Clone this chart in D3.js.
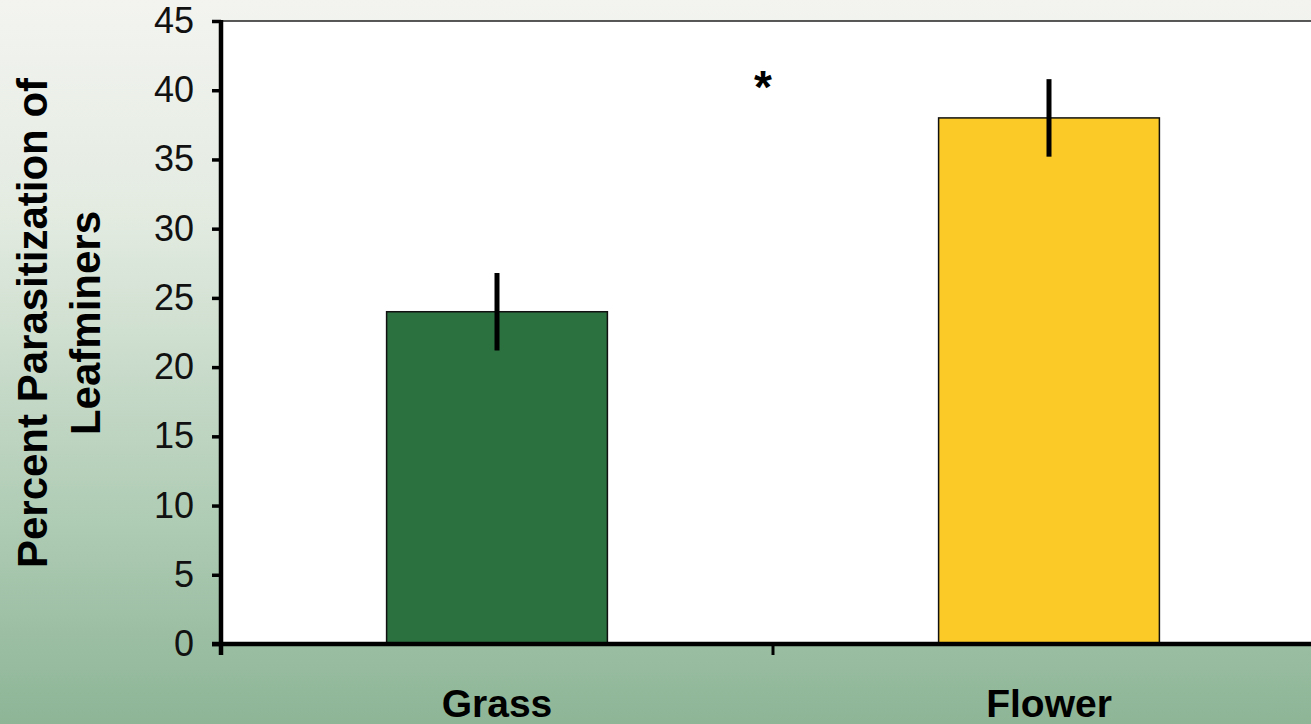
<!DOCTYPE html>
<html>
<head>
<meta charset="utf-8">
<script src="https://cdn.jsdelivr.net/npm/d3@7"></script>
<style>
  body { margin: 0; padding: 0; overflow: hidden; }
  svg { display: block; font-family: Arial, "Liberation Sans", sans-serif; }
</style>
</head>
<body>
<svg id="mainSvg" width="1311" height="724"></svg>
<script>
var categories = ["Grass", "Flower"];
var values = [24, 38];
var errors = [2.8, 2.8];
var barColors = ["#2b7140", "#fbca26"];
var yTicks = [0, 5, 10, 15, 20, 25, 30, 35, 40, 45];
var yTitle = ["Percent Parasitization of", "Leafminers"];
var marker = "*";

var W = 1311, H = 724;
var plotLeft = 221, plotTop = 21, plotBottom = 644, plotRight = 1325;

var svg = d3.select("#mainSvg");

// background gradient
var defs = svg.append("defs");
var grad = defs.append("linearGradient").attr("id", "bg")
  .attr("x1", 0).attr("y1", 0).attr("x2", 0).attr("y2", 1);
grad.append("stop").attr("offset", "0").attr("stop-color", "#f3f4f0");
grad.append("stop").attr("offset", "0.3").attr("stop-color", "#e3ebe1");
grad.append("stop").attr("offset", "0.7").attr("stop-color", "#b1cdb6");
grad.append("stop").attr("offset", "1").attr("stop-color", "#8db596");
svg.append("rect").attr("width", W).attr("height", H).attr("fill", "url(#bg)");

var y = d3.scaleLinear().domain([0, 45]).range([plotBottom, plotTop]);
var x = d3.scaleBand().domain(categories).range([plotLeft, plotRight]).paddingInner(0).paddingOuter(0);
var barW = x.bandwidth() * 0.4;

// plot area
svg.append("rect").attr("x", plotLeft).attr("y", plotTop).attr("width", plotRight - plotLeft).attr("height", plotBottom - plotTop)
  .attr("fill", "#ffffff");
svg.append("line").attr("x1", plotLeft).attr("x2", W).attr("y1", plotTop).attr("y2", plotTop)
  .attr("stroke", "#222").attr("stroke-width", 1.5);

// bars
svg.selectAll("rect.bar").data(values).enter().append("rect")
  .attr("class", "bar")
  .attr("x", function(d, i) { return x(categories[i]) + x.bandwidth() / 2 - barW / 2; })
  .attr("y", function(d) { return y(d); })
  .attr("width", barW)
  .attr("height", function(d) { return y(0) - y(d); })
  .attr("fill", function(d, i) { return barColors[i]; })
  .attr("stroke", "#111").attr("stroke-width", 1.5);

// error bars
svg.selectAll("line.err").data(values).enter().append("line")
  .attr("class", "err")
  .attr("x1", function(d, i) { return x(categories[i]) + x.bandwidth() / 2; })
  .attr("x2", function(d, i) { return x(categories[i]) + x.bandwidth() / 2; })
  .attr("y1", function(d, i) { return y(d + errors[i]); })
  .attr("y2", function(d, i) { return y(d - errors[i]); })
  .attr("stroke", "#000").attr("stroke-width", 5);

// y axis
var yAxis = d3.axisLeft(y).tickValues(yTicks).tickSize(9).tickPadding(18);
var gy = svg.append("g").attr("transform", "translate(" + plotLeft + ",0)").call(yAxis);
gy.select(".domain").remove();
gy.selectAll(".tick line").attr("stroke", "#000").attr("stroke-width", 3.5);
gy.selectAll(".tick text").attr("font-size", 36).attr("fill", "#111")
  .attr("font-family", "Arial, 'Liberation Sans', sans-serif");
svg.append("line").attr("x1", plotLeft).attr("x2", plotLeft).attr("y1", plotTop - 1).attr("y2", plotBottom + 11)
  .attr("stroke", "#000").attr("stroke-width", 4.5);

// x axis
svg.append("line").attr("x1", plotLeft - 9).attr("x2", W).attr("y1", plotBottom).attr("y2", plotBottom)
  .attr("stroke", "#000").attr("stroke-width", 4.5);
var xAxis = d3.axisBottom(x).tickSize(0).tickPadding(0);
var gx = svg.append("g").attr("transform", "translate(0," + plotBottom + ")").call(xAxis);
gx.select(".domain").remove();
gx.selectAll(".tick text").attr("font-size", 39).attr("font-weight", "bold").attr("fill", "#000")
  .attr("dy", null).attr("y", 73)
  .attr("font-family", "Arial, 'Liberation Sans', sans-serif");
// category separator ticks
svg.selectAll("line.sep").data(categories.slice(1)).enter().append("line")
  .attr("class", "sep")
  .attr("x1", function(d) { return x(d); }).attr("x2", function(d) { return x(d); })
  .attr("y1", plotBottom).attr("y2", plotBottom + 11)
  .attr("stroke", "#000").attr("stroke-width", 3);

// significance marker
svg.append("text").attr("x", (x(categories[0]) + x(categories[1]) + x.bandwidth()) / 2 - 10)
  .attr("y", 103).attr("text-anchor", "middle")
  .attr("font-size", 46).attr("font-weight", "bold").text(marker);

// y title
var t = svg.append("text").attr("transform", "translate(47,323) rotate(-90)")
  .attr("text-anchor", "middle").attr("font-size", 42).attr("font-weight", "bold").attr("fill", "#000");
yTitle.forEach(function(line, i) {
  t.append("tspan").attr("x", 0).attr("y", i * 53).text(line);
});
</script>
</body>
</html>
